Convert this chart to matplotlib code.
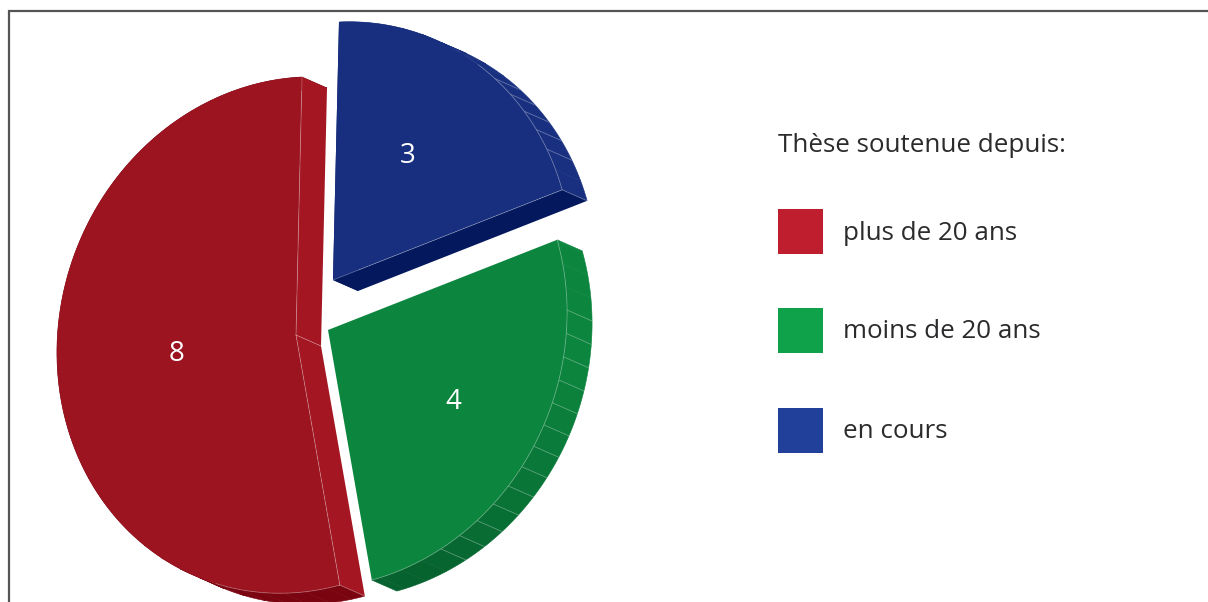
import numpy as np
import matplotlib
matplotlib.use("Agg")
import matplotlib.pyplot as plt
from matplotlib.patches import Polygon, Rectangle
from matplotlib.colors import to_rgb

# --- data
labels = ["en cours", "moins de 20 ans", "plus de 20 ans"]
values = [3, 4, 8]
legend_order = ["plus de 20 ans", "moins de 20 ans", "en cours"]
legend_title = "Thèse soutenue depuis:"

# --- styles
face = {"en cours": "#172f7e", "moins de 20 ans": "#0c853e", "plus de 20 ans": "#9b1420"}
side = {"en cours": "#04185e", "moins de 20 ans": None, "plus de 20 ans": "#a31622"}
rim_a = {"en cours": "#18307f", "moins de 20 ans": "#0c853e", "plus de 20 ans": "#7a0410"}
rim_b = {"en cours": "#18307f", "moins de 20 ans": "#06622e", "plus de 20 ans": "#7a0410"}
swatch = {"plus de 20 ans": "#be1e2d", "moins de 20 ans": "#0fa24b", "en cours": "#21409a"}
centers = {"en cours": (333, 280), "moins de 20 ans": (328, 330), "plus de 20 ans": (296, 335)}
label_pos = {"en cours": (408, 156), "moins de 20 ans": (453, 402), "plus de 20 ans": (177, 354)}
stripe_range = {"en cours": (36, 63), "moins de 20 ans": (87, 151), "plus de 20 ans": None}
depth = np.array([25.0, 11.0])
A = np.array([[239.0, -6.0], [-11.0, 258.0]])
LINE = (1, 1, 1, 0.3)
STEP = 5.2
FONT = "Open Sans"
TXT = "#2b2a2c"

fig = plt.figure(figsize=(12.08, 6.02), dpi=100)
ax = fig.add_axes([0, 0, 1, 1])
ax.set_xlim(0, 1208)
ax.set_ylim(602, 0)
ax.axis("off")


def pt(c, deg):
    t = np.radians(np.atleast_1d(deg))
    u = np.vstack([np.sin(t), -np.cos(t)])
    return (A @ u).T + np.array(c)


def mix(c1, c2, f):
    a, b = np.array(to_rgb(c1)), np.array(to_rgb(c2))
    return tuple(a + (b - a) * f)


# frame
ax.plot([8.5, 8.5, 1208], [602, 10.5, 10.5], color="#555555", lw=1.6, solid_joinstyle="miter")

fracs = np.array(values) / sum(values) * 360
ends = np.cumsum(fracs)
starts = ends - fracs

for name, a0, a1 in zip(labels, starts, ends):
    c = np.array(centers[name])
    # rim segments on a common angular grid
    grid = np.arange(62 - 12 * STEP, 360 + STEP, STEP)
    edges = np.concatenate([[a0], grid[(grid > a0) & (grid < a1)], [a1]])
    for e0, e1 in zip(edges[:-1], edges[1:]):
        th = np.linspace(e0, e1, 12)
        arc = pt(c, th)
        f = np.clip((0.5 * (e0 + e1) - 100) / 60, 0, 1)
        col = mix(rim_a[name], rim_b[name], f)
        ax.add_patch(Polygon(np.vstack([arc, (arc + depth)[::-1]]),
                             closed=True, fc=col, ec=col, lw=0.4, zorder=2))
    # segment lines
    rng = stripe_range[name]
    if rng is not None:
        for e in edges[1:-1]:
            if rng[0] <= e <= rng[1]:
                p = pt(c, e)[0]
                ax.plot([p[0], p[0] + depth[0]], [p[1], p[1] + depth[1]], color=LINE, lw=0.6, zorder=2.5)
    # cut sides
    if side[name] is not None:
        for a in (a0, a1):
            p = pt(c, a)[0]
            ax.add_patch(Polygon([c, p, p + depth, c + depth], closed=True,
                                 fc=side[name], ec="none", zorder=3))
    # front face
    th = np.linspace(a0, a1, 200)
    ax.add_patch(Polygon(np.vstack([c, pt(c, th)]), closed=True, fc=face[name], ec="none", zorder=4))

    # highlight lines on the visible boundary of the front face
    if name == "en cours":
        arc = pt(c, np.linspace(36, a1, 60))
        ax.plot(*arc.T, color=LINE, lw=0.6, zorder=5)
        p = pt(c, a1)[0]
        ax.plot([c[0], p[0], p[0] + depth[0]], [c[1], p[1], p[1] + depth[1]], color=LINE, lw=0.6, zorder=5)
    elif name == "moins de 20 ans":
        arc = pt(c, np.linspace(a0, a1, 80))
        ax.plot(*arc.T, color=LINE, lw=0.6, zorder=5)
    else:
        arc = pt(c, np.linspace(a0, a0 + 30, 40))
        ax.plot(*arc.T, color=LINE, lw=0.6, zorder=5)
        for a in (a0, a1):
            p = pt(c, a)[0]
            ax.plot([c[0], p[0]], [c[1], p[1]], color=LINE, lw=0.6, zorder=5)
        ax.plot([c[0], c[0] + depth[0]], [c[1], c[1] + depth[1]], color=LINE, lw=0.6, zorder=5)
        p = pt(c, a0)[0]
        ax.plot([p[0], p[0] + depth[0]], [p[1], p[1] + depth[1]], color=LINE, lw=0.6, zorder=5)

    x, y = label_pos[name]
    ax.text(x, y, str(values[labels.index(name)]), color="white", fontsize=20,
            family=FONT, ha="center", va="center", zorder=6)

# legend
ax.text(778, 146, legend_title, color=TXT, fontsize=18.7, family=FONT, ha="left", va="center")
for name, top in zip(legend_order, [209, 308, 408]):
    ax.add_patch(Rectangle((778, top), 45, 45, fc=swatch[name], ec="none"))
    ax.text(843, top + 24, name, color=TXT, fontsize=18.7, family=FONT, ha="left", va="center")

fig.savefig("out.png", dpi=100)
